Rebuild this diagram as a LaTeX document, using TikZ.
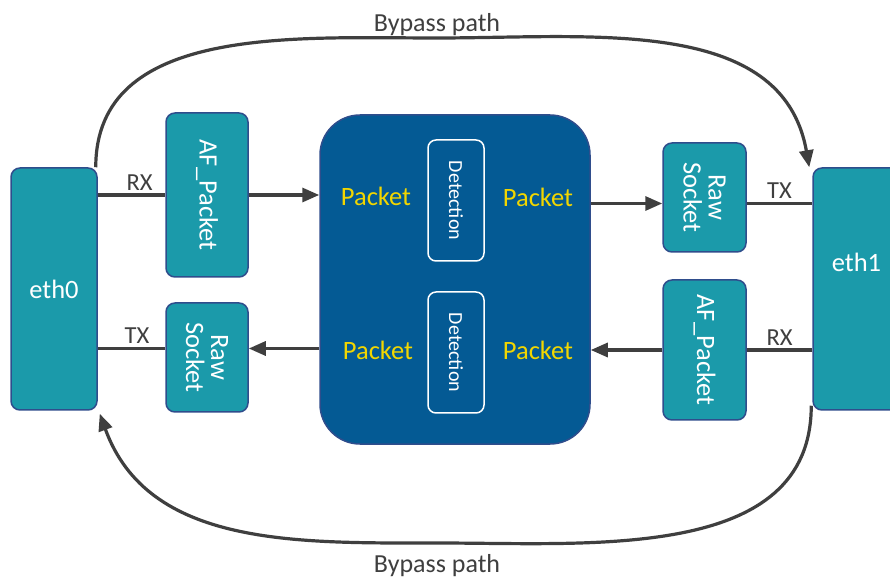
\documentclass[tikz,border=0pt]{standalone}
\usepackage{fontspec}
\setmainfont{Carlito}
\usetikzlibrary{arrows.meta,positioning}
\definecolor{boxteal}{HTML}{1B9AAA}
\definecolor{boxedge}{HTML}{2F4D8C}
\definecolor{coreblue}{HTML}{045A94}
\definecolor{pktyellow}{HTML}{F2D600}
\definecolor{linegray}{HTML}{3F3F3F}
\tikzset{
  unit/.style={draw=boxedge, line width=1.5pt, fill=boxteal, rounded corners=9pt,
    inner sep=0pt, text=white, font=\fontsize{26.5}{28}\selectfont},
  vtext/.style={label={[rotate=-90, align=center, text=white,
    font=\fontsize{26.5}{25}\selectfont]center:#1}},
  detbox/.style={draw=white, line width=1.5pt, rounded corners=8pt, minimum width=56pt,
    minimum height=121pt, label={[rotate=-90, text=white,
    font=\fontsize{20}{22}\selectfont]center:Detection}},
  pkt/.style={text=pktyellow, font=\fontsize{26.5}{28}\selectfont},
  wire/.style={draw=linegray, line width=3.2pt},
  flow/.style={wire, -{Triangle[length=17pt,width=14pt]}},
  tag/.style={text=linegray, font=\fontsize{24.5}{26}\selectfont},
}
\begin{document}
\begin{tikzpicture}[x=1pt,y=1pt]
  \useasboundingbox (0,0) rectangle (890,578);
  \clip (0,0) rectangle (890,578);
  \fill[white] (0,0) rectangle (890,578);

  % interfaces
  \node[unit, minimum width=86pt, minimum height=242pt] (eth0) at (54,289) {eth0};
  \node[unit, minimum width=87pt, minimum height=242pt,
    label={[text=white, font=\fontsize{26.5}{28}\selectfont, yshift=27pt]center:eth1}] (eth1) at (856.5,289) {};

  % sockets
  \node[unit, minimum width=82pt, minimum height=164pt, vtext={AF\_Packet}] (afl) at (207,383) {};
  \node[unit, minimum width=82pt, minimum height=109pt, vtext={Raw\\Socket}] (rawl) at (207,220.5) {};
  \node[unit, minimum width=83pt, minimum height=109pt, vtext={Raw\\Socket}] (rawr) at (704.5,380.5) {};
  \node[unit, minimum width=83pt, minimum height=140pt, vtext={AF\_Packet}] (afr) at (704.5,228) {};

  % core
  \node[draw=boxedge, line width=1.5pt, fill=coreblue, rounded corners=40pt,
    minimum width=270pt, minimum height=329pt] (core) at (455,298.5) {};
  \node[detbox] (dettop) at (456,377.5) {};
  \node[detbox] (detbot) at (456,225.5) {};
  \node[pkt] (pktinl) at (376,382) {Packet};
  \node[pkt] (pktoutr) at (538,381) {Packet};
  \node[pkt] (pktoutl) at (378,228) {Packet};
  \node[pkt] (pktinr) at (538,228) {Packet};

  % port points
  \coordinate (rawlin) at ([yshift=9pt]rawl.east);
  \coordinate (rawlout) at ([yshift=9pt]rawl.west);
  \coordinate (rawrin) at ([yshift=-6pt]rawr.west);
  \coordinate (rawrout) at ([yshift=-6pt]rawr.east);

  % links
  \draw[wire] (eth0.east |- afl.west) -- node[tag, above, pos=0.62] {RX} (afl.west);
  \draw[flow] (afl.east) -- (core.west |- afl.east);
  \draw[wire] (rawlout) -- node[tag, above, pos=0.42] {TX} (eth0.east |- rawlout);
  \draw[flow] (core.west |- rawlin) -- (rawlin);
  \draw[flow] (core.east |- rawrin) -- (rawrin);
  \draw[wire] (rawrout) -- node[tag, above, pos=0.5] {TX} (eth1.west |- rawrout);
  \draw[wire] (eth1.west |- afr.east) -- node[tag, above, pos=0.5] {RX} (afr.east);
  \draw[flow] (afr.west) -- (core.east |- afr.west);

  % bypass
  \coordinate (topmid) at (437,540);
  \coordinate (botmid) at (437,35);
  \draw[flow] ([xshift=-2pt]eth0.north east) to[out=90,in=180] (topmid)
    to[out=0,in=100] ([xshift=-3pt]eth1.north west);
  \node[tag, above=-1pt, font=\fontsize{26}{28}\selectfont] (bypasstop) at (topmid) {Bypass path};
  \draw[flow] ([xshift=-1pt,yshift=5pt]eth1.south west) to[out=-90,in=0] (botmid)
    to[out=180,in=-70] ([xshift=2pt,yshift=-3pt]eth0.south east);
  \node[tag, below=8pt, font=\fontsize{26}{28}\selectfont] (bypassbot) at (botmid) {Bypass path};
\end{tikzpicture}
\end{document}
